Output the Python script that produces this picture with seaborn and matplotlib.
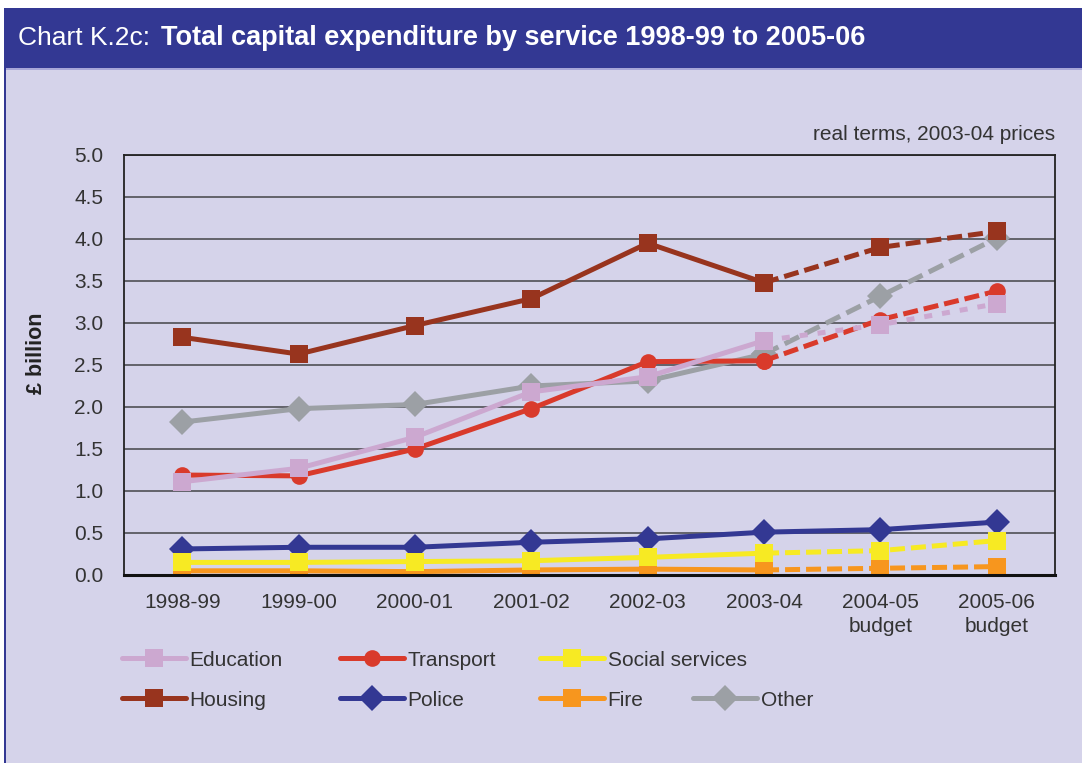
import numpy as np
import pandas as pd
import matplotlib
matplotlib.use("Agg")
import matplotlib.pyplot as plt
from matplotlib.lines import Line2D
from matplotlib.patches import Rectangle
import seaborn as sns

# ---- data (£ billion, real terms, 2003-04 prices) ----
periods = ["1998-99", "1999-00", "2000-01", "2001-02", "2002-03",
           "2003-04", "2004-05\nbudget", "2005-06\nbudget"]
education = [1.11, 1.27, 1.64, 2.18, 2.36, 2.79, 2.98, 3.23]
transport = [1.19, 1.18, 1.50, 1.98, 2.54, 2.55, 3.04, 3.38]
social_services = [0.15, 0.15, 0.16, 0.17, 0.21, 0.26, 0.29, 0.41]
housing = [2.83, 2.63, 2.97, 3.29, 3.95, 3.48, 3.90, 4.09]
police = [0.31, 0.33, 0.33, 0.39, 0.43, 0.51, 0.54, 0.63]
fire = [0.05, 0.05, 0.04, 0.06, 0.07, 0.06, 0.08, 0.10]
other = [1.82, 1.98, 2.03, 2.25, 2.31, 2.63, 3.32, 4.01]

# last outturn year; later years are plans (drawn dashed)
last_outturn = "2003-04"

BG = "#D5D3EA"
HEAD = "#333893"
TXT = "#333333"

series = [
    # name, values, colour, marker, size, dash pattern for plans
    ("Fire", fire, "#F7961E", "s", 12.5, (3.0, 1.2)),
    ("Police", police, "#333893", "D", 13.0, None),
    ("Social services", social_services, "#F7EA23", "s", 12.5, (3.0, 1.2)),
    ("Other", other, "#9CA0A5", "D", 13.0, (3.2, 1.4)),
    ("Housing", housing, "#98341E", "s", 12.5, (3.0, 1.2)),
    ("Transport", transport, "#D93A2B", "o", 12.0, (3.0, 1.2)),
    ("Education", education, "#CCA8D0", "s", 12.5, (1.6, 2.0)),
]
legend_layout = [
    ("Education", 122, 660), ("Transport", 340, 660), ("Social services", 540, 660),
    ("Housing", 122, 700), ("Police", 340, 700), ("Fire", 540, 700), ("Other", 693, 700),
]

rows = []
for name, vals, *_ in series:
    for i, (p, v) in enumerate(zip(periods, vals)):
        rows.append({"service": name, "pos": i, "period": p, "value": v})
df = pd.DataFrame(rows)
split = periods.index(last_outturn)

sns.set_theme(style="white")
plt.rcParams["font.family"] = ["Liberation Sans", "DejaVu Sans"]

W, H = 1082, 763
fig = plt.figure(figsize=(W / 100, H / 100), dpi=100, facecolor=BG)

def fx(px):
    return px / W

def fy(py):
    return 1 - py / H

# frame: white margin, blue header band and left rule
fig.patches.append(Rectangle((0, fy(8)), 1, 8 / H, transform=fig.transFigure,
                             facecolor="white", edgecolor="none", zorder=0))
fig.patches.append(Rectangle((0, 0), fx(4), 1, transform=fig.transFigure,
                             facecolor="white", edgecolor="none", zorder=0))
fig.patches.append(Rectangle((fx(4), fy(68)), 1 - fx(4), 60 / H, transform=fig.transFigure,
                             facecolor=HEAD, edgecolor="none", zorder=1))
fig.patches.append(Rectangle((fx(4), fy(70)), 1 - fx(4), 2 / H, transform=fig.transFigure,
                             facecolor="#A8A6D8", edgecolor="none", zorder=1))
fig.patches.append(Rectangle((fx(4), 0), 1.5 / W, fy(68), transform=fig.transFigure,
                             facecolor=HEAD, edgecolor="none", zorder=1))

ax = fig.add_axes([fx(124), fy(575), fx(1055) - fx(124), (575 - 155) / H])
ax.set_facecolor(BG)

LW = 3.6
for name, vals, col, mk, ms, dash in series:
    sub = df[df["service"] == name]
    if dash is None:
        sns.lineplot(data=sub, x="pos", y="value", ax=ax, color=col, lw=LW,
                     marker=mk, markersize=ms, markeredgewidth=0, legend=False)
    else:
        sns.lineplot(data=sub[sub["pos"] <= split], x="pos", y="value", ax=ax,
                     color=col, lw=LW, marker=mk, markersize=ms,
                     markeredgewidth=0, legend=False)
        sns.lineplot(data=sub[sub["pos"] >= split], x="pos", y="value", ax=ax,
                     color=col, lw=LW, marker=mk, markersize=ms,
                     markeredgewidth=0, legend=False,
                     linestyle=(0, dash))

n = len(periods)
ax.set_xlim(-0.5, n - 0.5)
ax.set_ylim(0, 5)
ax.set_yticks(np.arange(0, 5.01, 0.5))
ax.set_yticklabels([f"{v:.1f}" for v in np.arange(0, 5.01, 0.5)])
ax.yaxis.grid(True, color="#4F4F55", lw=1.2)
ax.set_axisbelow(True)
ax.tick_params(axis="y", length=0, pad=15, labelsize=15, labelcolor=TXT)

# category boundaries carry the tick marks, labels sit at the centres
ax.set_xticks(np.arange(-0.5, n, 1.0))
ax.set_xticklabels([])
ax.set_xticks(np.arange(n), minor=True)
ax.set_xticklabels(periods, minor=True, fontsize=15, color=TXT, linespacing=1.3)
ax.tick_params(axis="x", which="major", direction="out", length=8, width=1.3, color="#222222")
ax.tick_params(axis="x", which="minor", length=0, pad=13)
ax.set_xlabel("")
ax.set_ylabel("")

for s in ["left", "right", "top"]:
    ax.spines[s].set_visible(True)
    ax.spines[s].set_color("#222222")
    ax.spines[s].set_linewidth(1.3)
ax.spines["bottom"].set_color("#111111")
ax.spines["bottom"].set_linewidth(2.2)

# titles and annotations
renderer = fig.canvas.get_renderer()
t1 = fig.text(fx(18), fy(38), "Chart K.2c:", color="white", fontsize=19,
              va="center", ha="left")
bb = t1.get_window_extent(renderer)
fig.text(bb.x1 / W + fx(11), fy(38), "Total capital expenditure by service 1998-99 to 2005-06",
         color="white", fontsize=19.5, fontweight="bold", va="center", ha="left")
fig.text(fx(1055), fy(135), "real terms, 2003-04 prices", fontsize=15, color=TXT,
         ha="right", va="center")
fig.text(fx(36), fy(353), "£ billion", fontsize=15.5, fontweight="bold", color="#222222",
         rotation=90, ha="center", va="center")

# legend: one entry per slot so the two rows line up as columns
style = {name: (col, mk, ms) for name, _, col, mk, ms, _ in series}
for name, px, py in legend_layout:
    col, mk, ms = style[name]
    h = Line2D([], [], color=col, lw=LW, marker=mk, markersize=ms, markeredgewidth=0)
    fig.legend([h], [name], loc="center left", bbox_to_anchor=(fx(px), fy(py)),
               frameon=False, fontsize=15, handlelength=3.05, handletextpad=0.2,
               borderpad=0, borderaxespad=0, labelcolor=TXT, numpoints=1)

fig.savefig("out.png", dpi=100, facecolor=BG)
